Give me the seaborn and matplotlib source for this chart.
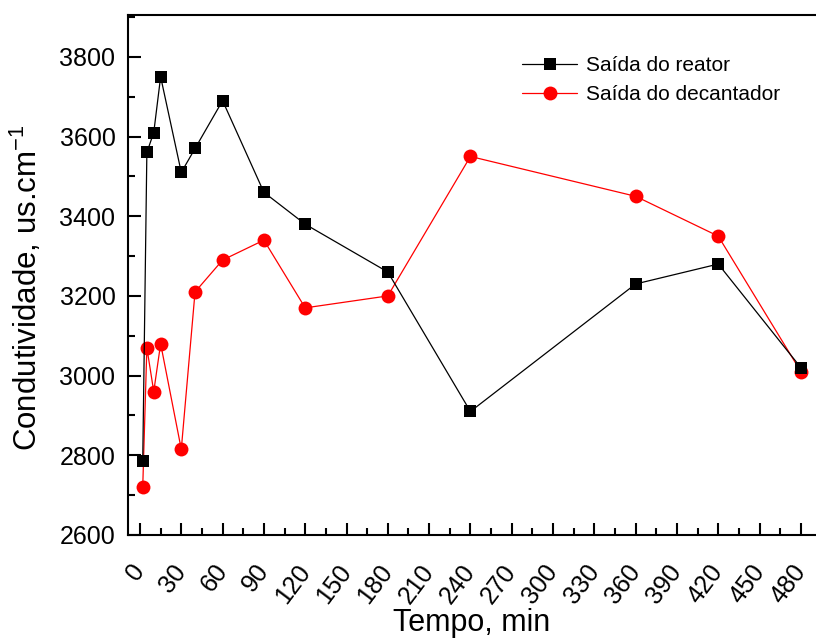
import matplotlib
matplotlib.use("Agg")
import matplotlib.pyplot as plt
import seaborn as sns
import pandas as pd
from matplotlib.ticker import MultipleLocator

tempo = [2, 5, 10, 15, 30, 40, 60, 90, 120, 180, 240, 360, 420, 480]
reator = [2785, 3560, 3610, 3750, 3510, 3570, 3690, 3460, 3380, 3260, 2910, 3230, 3280, 3020]
decantador = [2720, 3070, 2960, 3080, 2815, 3210, 3290, 3340, 3170, 3200, 3550, 3450, 3350, 3010]
series_names = ["Saída do reator", "Saída do decantador"]
x_ticks = list(range(0, 481, 30))

sns.set_style("ticks")
plt.rcParams['font.family'] = ['Liberation Sans', 'DejaVu Sans']
plt.rcParams['xtick.direction'] = 'in'
plt.rcParams['ytick.direction'] = 'in'
for k in ['text.color', 'axes.labelcolor', 'xtick.color', 'ytick.color', 'axes.edgecolor']:
    plt.rcParams[k] = 'black'

df = pd.DataFrame({
    "Tempo": tempo * 2,
    "Cond": reator + decantador,
    "Serie": [series_names[0]] * len(tempo) + [series_names[1]] * len(tempo),
})

fig = plt.figure(figsize=(8.16, 6.4), dpi=100)
ax = fig.add_axes([128/816, 1-535/640, 1-128/816, (535-15)/640])

sns.lineplot(data=df[df.Serie == series_names[1]], x="Tempo", y="Cond", color="red",
             marker="o", markersize=10, markeredgewidth=0, linewidth=0.9,
             ax=ax, sort=False, label=series_names[1])
sns.lineplot(data=df[df.Serie == series_names[0]], x="Tempo", y="Cond", color="black",
             marker="s", markersize=9, markeredgewidth=0, linewidth=0.9,
             ax=ax, sort=False, label=series_names[0])

ax.set_xlim(-8.7, 491)
ax.set_ylim(2600, 3905)
ax.xaxis.set_minor_locator(MultipleLocator(15))
ax.yaxis.set_major_locator(MultipleLocator(200))
ax.yaxis.set_minor_locator(MultipleLocator(100))
ax.set_xticks(x_ticks)
ax.set_xticklabels([str(t) for t in x_ticks], rotation=53, ha='right', va='center',
                   rotation_mode='anchor', fontsize=18)
ax.tick_params(axis='both', which='major', direction='in', length=9, width=1.5,
               labelsize=18, color='black', labelcolor='black')
ax.tick_params(axis='both', which='minor', direction='in', length=5, width=1.5, color='black')
ax.tick_params(axis='x', which='major', pad=23)
ax.tick_params(axis='y', which='major', pad=9)
for s in ['left', 'bottom', 'top']:
    ax.spines[s].set_linewidth(1.5)
    ax.spines[s].set_color('black')
ax.spines['right'].set_visible(False)

ax.set_xlabel("Tempo, min", fontsize=22, labelpad=0.5)
ax.set_ylabel("Condutividade, us.cm$^{\\mathregular{-1}}$", fontsize=22.5)
ax.yaxis.set_label_coords(-0.122, 0.476)

handles, labels = ax.get_legend_handles_labels()
order = [labels.index(n) for n in series_names]
leg = ax.legend([handles[i] for i in order], [labels[i] for i in order],
                loc='upper left', bbox_to_anchor=(522/816, 1-56/640),
                bbox_transform=fig.transFigure, frameon=False, borderpad=0,
                borderaxespad=0, fontsize=15, handlelength=2.65,
                handletextpad=0.43, labelspacing=0.48)

fig.savefig("out.png", dpi=100)
